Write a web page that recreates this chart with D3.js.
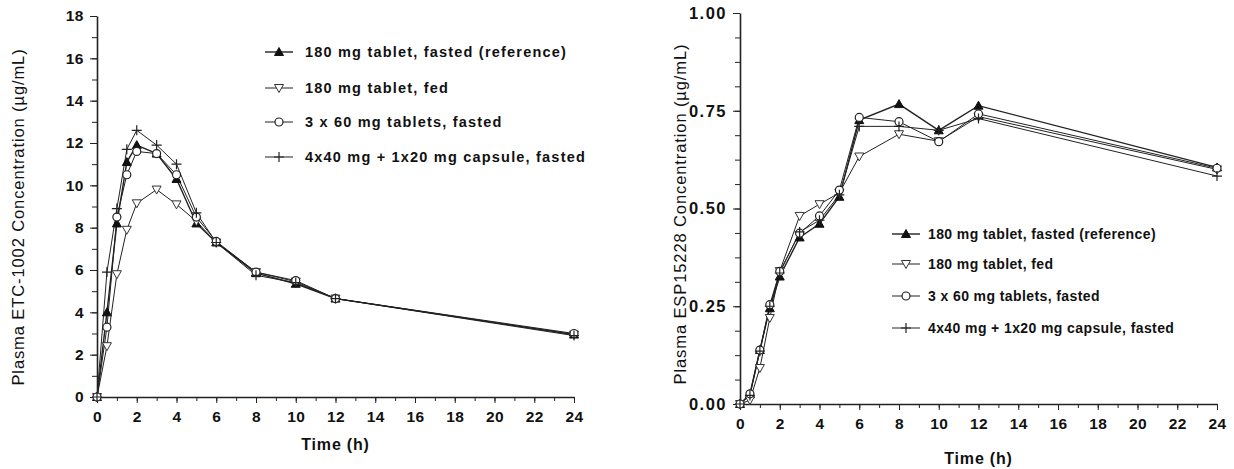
<!DOCTYPE html>
<html>
<head>
<meta charset="utf-8">
<script src="https://cdn.jsdelivr.net/npm/d3@7"></script>
<style>
  body { margin: 0; background: #fff; }
  svg text { font-family: "Liberation Sans", Arial, sans-serif; fill: #111; }
  .tick text { font-weight: bold; font-size: 15.5px; letter-spacing: 0.5px; }
  .axis path, .axis line { stroke: #222; }
</style>
</head>
<body>
<div id="chart"></div>
<script>
// sampling times (h)
const times = [0, 0.5, 1, 1.5, 2, 3, 4, 5, 6, 8, 10, 12, 24];

const seriesNames = [
    "180 mg tablet, fasted (reference)",
    "180 mg tablet, fed",
    "3 x 60 mg tablets, fasted",
    "4x40 mg + 1x20 mg capsule, fasted"
];
const seriesSymbols = ["triUp", "triDown", "circle", "plus"];

// ETC-1002 (ug/mL)
const etcFasted  = [0, 4.0, 8.2, 11.1, 11.9, 11.5, 10.3, 8.2, 7.3, 5.85, 5.35, 4.65, 2.95];
const etcFed     = [0, 2.4, 5.8, 7.9, 9.15, 9.8, 9.1, 8.3, 7.3, 5.9, 5.45, 4.65, 2.95];
const etc3x60    = [0, 3.3, 8.5, 10.5, 11.6, 11.5, 10.5, 8.5, 7.35, 5.9, 5.5, 4.65, 3.0];
const etcCapsule = [0, 5.9, 8.9, 11.7, 12.6, 11.9, 11.0, 8.7, 7.3, 5.75, 5.4, 4.65, 2.9];

// ESP15228 (ug/mL)
const espFasted  = [0, 0.025, 0.138, 0.245, 0.326, 0.426, 0.461, 0.53, 0.726, 0.767, 0.70, 0.763, 0.605];
const espFed     = [0, 0.01, 0.092, 0.22, 0.34, 0.481, 0.511, 0.54, 0.633, 0.69, 0.672, 0.735, 0.60];
const esp3x60    = [0, 0.026, 0.138, 0.254, 0.339, 0.437, 0.481, 0.547, 0.733, 0.722, 0.671, 0.742, 0.603];
const espCapsule = [0, 0.022, 0.135, 0.25, 0.335, 0.44, 0.47, 0.535, 0.71, 0.71, 0.70, 0.73, 0.583];

const xTicks = d3.range(0, 25, 2);
const leftYTicks = d3.range(0, 19, 2);
const rightYTicks = [0, 0.25, 0.5, 0.75, 1.0];

const svg = d3.select("#chart").append("svg")
    .attr("width", 1234)
    .attr("height", 469);

function drawMarker(g, type, x, y) {
    if (type === "triUp") {
        g.append("path").attr("d", `M${x},${y - 4.5}L${x + 4.5},${y + 3.5}L${x - 4.5},${y + 3.5}Z`)
            .attr("fill", "#111").attr("stroke", "#111");
    } else if (type === "triDown") {
        g.append("path").attr("d", `M${x - 4.5},${y - 3.5}L${x + 4.5},${y - 3.5}L${x},${y + 4.5}Z`)
            .attr("fill", "#fff").attr("stroke", "#333").attr("stroke-width", 1);
    } else if (type === "circle") {
        g.append("circle").attr("cx", x).attr("cy", y).attr("r", 4)
            .attr("fill", "#fff").attr("stroke", "#222").attr("stroke-width", 1.2);
    } else {
        g.append("path").attr("d", `M${x - 5},${y}H${x + 5}M${x},${y - 5}V${y + 5}`)
            .attr("stroke", "#222").attr("stroke-width", 1.2);
    }
}

function drawPanel(cfg) {
    const x = d3.scaleLinear().domain([0, 24]).range(cfg.xRange);
    const y = d3.scaleLinear().domain(cfg.yDomain).range(cfg.yRange);
    const g = svg.append("g");

    // minor ticks
    g.append("g").attr("class", "axis")
        .attr("transform", `translate(0,${cfg.yRange[0]})`)
        .call(d3.axisBottom(x).tickValues(d3.range(0, 25, 1)).tickSize(4).tickFormat(""))
        .call(a => a.select(".domain").remove());
    g.append("g").attr("class", "axis")
        .attr("transform", `translate(${cfg.xRange[0]},0)`)
        .call(d3.axisLeft(y).tickValues(cfg.yMinor).tickSize(5).tickFormat(""))
        .call(a => a.select(".domain").remove());

    // major axes
    g.append("g").attr("class", "axis")
        .attr("transform", `translate(0,${cfg.yRange[0]})`)
        .call(d3.axisBottom(x).tickValues(xTicks).tickSize(6).tickSizeOuter(0).tickPadding(8))
        .call(a => a.select(".domain").attr("stroke-width", 1.6));
    g.append("g").attr("class", "axis")
        .attr("transform", `translate(${cfg.xRange[0]},0)`)
        .call(d3.axisLeft(y).tickValues(cfg.yTicks).tickSize(7).tickSizeOuter(0).tickPadding(6)
            .tickFormat(cfg.yFormat))
        .call(a => a.select(".domain").attr("stroke-width", 1.6))
        .call(a => a.selectAll(".tick text").style("font-size", cfg.yTickFont)
            .style("letter-spacing", cfg.yTickSpacing));

    // titles
    g.append("text")
        .attr("x", (cfg.xRange[0] + cfg.xRange[1]) / 2)
        .attr("y", cfg.xTitleY)
        .attr("text-anchor", "middle")
        .style("font-weight", "bold").style("font-size", "16px")
        .style("letter-spacing", "0.8px")
        .text("Time (h)");
    g.append("text")
        .attr("transform", `translate(${cfg.yTitleX},${cfg.yTitleY}) rotate(-90)`)
        .attr("text-anchor", "middle")
        .style("font-size", "16.5px")
        .style("letter-spacing", "0.9px")
        .text(cfg.yTitle);

    const line = d3.line().x(d => x(d.t)).y(d => y(d.v));

    cfg.series.forEach((vals, i) => {
        const pts = vals.map((v, k) => ({ t: times[k], v: v }));
        g.append("path").datum(pts)
            .attr("d", line)
            .attr("fill", "none")
            .attr("stroke", "#222")
            .attr("stroke-width", i === 0 ? 1.4 : 1);
    });
    cfg.series.forEach((vals, i) => {
        const mg = g.append("g");
        vals.forEach((v, k) => drawMarker(mg, seriesSymbols[i], x(times[k]), y(v)));
    });

    // legend
    const lg = g.append("g");
    seriesNames.forEach((name, i) => {
        const ly = cfg.legendY[i];
        lg.append("line")
            .attr("x1", cfg.legendX).attr("x2", cfg.legendX + 28)
            .attr("y1", ly).attr("y2", ly)
            .attr("stroke", "#222").attr("stroke-width", i === 0 ? 1.4 : 1);
        drawMarker(lg, seriesSymbols[i], cfg.legendX + 14, ly);
        lg.append("text")
            .attr("x", cfg.legendX + cfg.legendGap).attr("y", ly + 5)
            .style("font-weight", "bold").style("font-size", cfg.legendFont)
            .style("letter-spacing", cfg.legendSpacing)
            .text(name);
    });
}

drawPanel({
    xRange: [97, 574],
    yDomain: [0, 18],
    yRange: [397, 16],
    yTicks: leftYTicks,
    yMinor: d3.range(0, 19, 1),
    yFormat: d3.format("d"),
    yTickFont: "15.5px",
    yTickSpacing: "0.5px",
    xTitleY: 450,
    yTitleX: 24,
    yTitleY: 217,
    yTitle: "Plasma ETC-1002 Concentration (µg/mL)",
    series: [etcFasted, etcFed, etc3x60, etcCapsule],
    legendX: 265,
    legendGap: 40,
    legendY: [52, 88, 122, 157],
    legendFont: "14.5px",
    legendSpacing: "1.2px"
});

drawPanel({
    xRange: [740, 1217],
    yDomain: [0, 1],
    yRange: [404, 13],
    yTicks: rightYTicks,
    yMinor: d3.range(0, 1.01, 0.0625),
    yFormat: d3.format(".2f"),
    yTickFont: "16.5px",
    yTickSpacing: "1.5px",
    xTitleY: 464,
    yTitleX: 686,
    yTitleY: 214,
    yTitle: "Plasma ESP15228 Concentration (µg/mL)",
    series: [espFasted, espFed, esp3x60, espCapsule],
    legendX: 892,
    legendGap: 36,
    legendY: [234, 264, 296, 328],
    legendFont: "14px",
    legendSpacing: "0.4px"
});
</script>
</body>
</html>
